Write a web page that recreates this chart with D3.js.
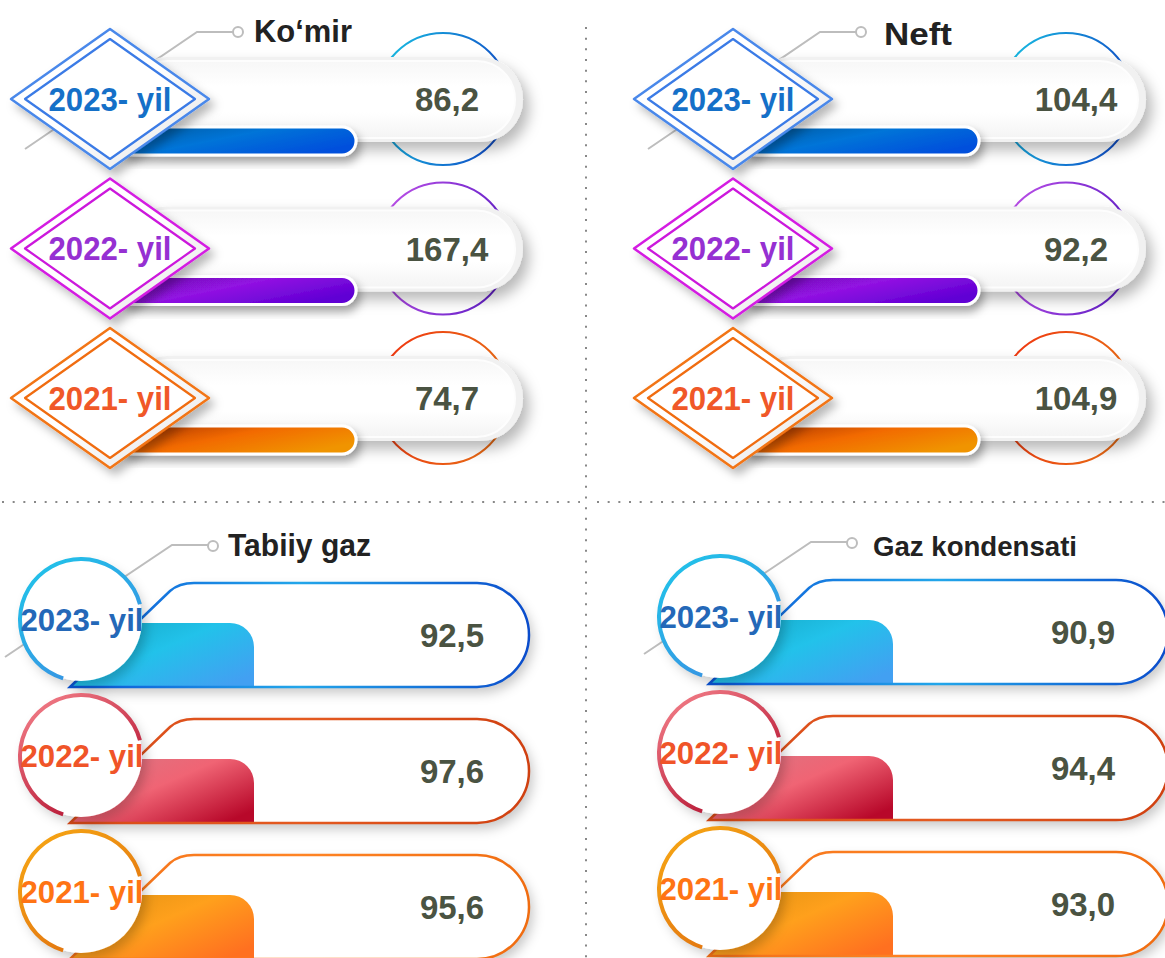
<!DOCTYPE html>
<html>
<head>
<meta charset="utf-8">
<script src="https://cdn.jsdelivr.net/npm/d3@7"></script>
<style>
  body { margin: 0; background: #fff; }
  svg { display: block; font-family: "Liberation Sans", Arial, sans-serif; font-weight: bold; }
</style>
</head>
<body>
<div id="chart"></div>
<script>
// Data
const years = ['2023- yil', '2022- yil', '2021- yil'];
const komirValues = [86.2, 167.4, 74.7];
const neftValues = [104.4, 92.2, 104.9];
const tabiiyGazValues = [92.5, 97.6, 95.6];
const gazKondensatiValues = [90.9, 94.4, 93.0];
const panelTitles = ['Ko‘mir', 'Neft', 'Tabiiy gaz', 'Gaz kondensati'];

const W = 1165, H = 958;
const fmt = d3.formatLocale({ decimal: ',', thousands: ' ', grouping: [3], currency: ['', ''] }).format('.1f');

// Colours per year (top panels use diamonds, bottom panels use circles)
const diamondStyles = [
	{ outer: '#4a88ea', inner: '#3b7be6', text: '#1570c8', bar: ['#0a5a9c', '#0074d8', '#0050dc'], ring: ['#18c6e4', '#1050c8'] },
	{ outer: '#d41ee2', inner: '#cc18dc', text: '#9630d2', bar: ['#6810a8', '#9212e2', '#6000d4'], ring: ['#c454ea', '#6420c8'] },
	{ outer: '#f27414', inner: '#f06c10', text: '#f05828', bar: ['#a83200', '#f26a00', '#f09400'], ring: ['#f03210', '#e86a14'] }
];
const circleStyles = [
	{ arc: ['#1ec8ea', '#3a8ee2'], text: '#2468b8', pill: ['#0a54d6', '#22a6ea', '#0a4ccc'], bar: ['#12a6c2', '#22c2ea', '#42a0f2'] },
	{ arc: ['#f88890', '#b00c2c'], text: '#f05428', pill: ['#d84a18', '#e45a20', '#d04010'], bar: ['#d87884', '#f06474', '#b8082a'] },
	{ arc: ['#f8aa14', '#e07010'], text: '#ff7414', pill: ['#f27018', '#ff8424', '#f06c10'], bar: ['#de9010', '#ffa01c', '#ff7020'] }
];

const svg = d3.select('#chart').append('svg').attr('width', W).attr('height', H);
const defs = svg.append('defs');

const addGradient = (id, stops, x2 = 1, y2 = 0) => {
	const g = defs.append('linearGradient').attr('id', id)
		.attr('x1', 0).attr('y1', 0).attr('x2', x2).attr('y2', y2);
	stops.forEach((c, i) => g.append('stop').attr('offset', i / (stops.length - 1)).attr('stop-color', c));
};
const addShadow = (id, dx, dy, sd, op) => {
	defs.append('filter').attr('id', id)
		.attr('x', '-30%').attr('y', '-40%').attr('width', '170%').attr('height', '190%')
		.append('feDropShadow')
		.attr('dx', dx).attr('dy', dy).attr('stdDeviation', sd)
		.attr('flood-color', '#000').attr('flood-opacity', op);
};

diamondStyles.forEach((s, i) => {
	addGradient(`dbar${i}`, s.bar, 1, 0.6);
	addGradient(`ring${i}`, s.ring, 1, 0.2);
});
circleStyles.forEach((s, i) => {
	addGradient(`carc${i}`, s.arc, 0.7, 1);
	addGradient(`cpill${i}`, s.pill, 1, 0);
	addGradient(`cbar${i}`, s.bar, 1, 0.8);
});
addGradient('pillFace', ['#f7f7f7', '#ffffff', '#ffffff', '#f4f4f4'], 0, 1);
addGradient('diamondFace', ['#ffffff', '#ffffff', '#e2e2e2'], 1, 1);
addShadow('shPill', 6, 8, 7, 0.28);
addShadow('shBar', 3, 6, 5, 0.35);
addShadow('shDiamond', 5, 6, 5, 0.28);
addShadow('shCircle', 4, 6, 6, 0.22);

// Dotted dividers
const divider = svg.append('g').attr('stroke', '#888').attr('stroke-width', 2).attr('stroke-dasharray', '2,8.67');
divider.append('line').attr('x1', 586).attr('x2', 586).attr('y1', 27).attr('y2', H);
divider.append('line').attr('x1', 2).attr('x2', 580).attr('y1', 502).attr('y2', 502);
divider.append('line').attr('x1', 597).attr('x2', W).attr('y1', 502).attr('y2', 502);

const connector = (g, pts, dot) => {
	g.append('path').attr('d', d3.line()(pts))
		.attr('fill', 'none').attr('stroke', '#bdbdbd').attr('stroke-width', 2);
	g.append('circle').attr('cx', dot[0]).attr('cy', dot[1]).attr('r', 5)
		.attr('fill', '#fff').attr('stroke', '#bdbdbd').attr('stroke-width', 2);
};

const diamondPoints = (cx, cy, hw, hh) => [[cx - hw, cy], [cx, cy - hh], [cx + hw, cy], [cx, cy + hh]];

// Top panels: diamond badge, white pill, short bar, ring behind the value
function drawDiamondPanel(title, values, o) {
	const g = svg.append('g').attr('transform', `translate(${o.dx},${o.dy})`);
	const y = d3.scalePoint().domain(years).range([99, 398]);

	connector(g, [[25, 149], [197, 32], [233, 32]], [238, 32]);

	years.forEach((yr, i) => {
		const s = diamondStyles[i];
		const cy = y(yr);
		g.append('circle').attr('cx', 443).attr('cy', cy).attr('r', 66)
			.attr('fill', 'none').attr('stroke', `url(#ring${i})`).attr('stroke-width', 2);

		g.append('rect').attr('x', 125).attr('y', cy - 42).attr('width', 398).attr('height', 85).attr('rx', 42.5)
			.attr('fill', '#f1f1f1').attr('filter', 'url(#shPill)');
		g.append('rect').attr('x', 129).attr('y', cy - 38).attr('width', 386).attr('height', 77).attr('rx', 38.5)
			.attr('fill', 'url(#pillFace)').attr('stroke', '#fdfdfd').attr('stroke-width', 2);

		g.append('rect').attr('x', 120).attr('y', cy + 28).attr('width', 236).attr('height', 28).attr('rx', 14)
			.attr('fill', `url(#dbar${i})`).attr('stroke', '#fff').attr('stroke-width', 3)
			.attr('filter', 'url(#shBar)');

		g.append('polygon').attr('points', diamondPoints(110, cy, 99, 70).join(' '))
			.attr('fill', 'url(#diamondFace)').attr('stroke', s.outer).attr('stroke-width', 2.5)
			.attr('stroke-linejoin', 'round').attr('filter', 'url(#shDiamond)');
		g.append('polygon').attr('points', diamondPoints(110, cy, 85, 60).join(' '))
			.attr('fill', '#fff').attr('stroke', s.inner).attr('stroke-width', 2.2)
			.attr('stroke-linejoin', 'round');

		g.append('text').attr('x', 110).attr('y', cy + 11.5).attr('text-anchor', 'middle')
			.attr('font-size', 32.5).attr('textLength', 123).attr('lengthAdjust', 'spacingAndGlyphs')
			.attr('fill', s.text).text(yr);
		g.append('text').attr('x', o.valueX).attr('y', cy + 12).attr('text-anchor', 'middle')
			.attr('font-size', 33).attr('fill', '#4a5342').text(fmt(values[i]));
	});

	g.append('text').attr('x', o.titleX).attr('y', o.titleY)
		.attr('font-size', o.titleSize).attr('fill', '#222')
		.attr('textLength', o.titleLen).attr('lengthAdjust', 'spacingAndGlyphs').text(title);
}

// Bottom panels: slanted outlined pill, tab-shaped bar, circle badge
const pillPath = (x0, yt, yb, xr) => {
	const R = (yb - yt) / 2;
	return `M${x0},${yb}L${x0 + 100},${yt + 8}Q${x0 + 109},${yt} ${x0 + 124},${yt}` +
		`L${xr - R},${yt}A${R},${R} 0 0 1 ${xr - R},${yb}Z`;
};
const tabPath = (x0, ytop, yb, xr, r) => {
	const xd = x0 + (yb - ytop) * 100 / 96;
	return `M${x0},${yb}L${xd},${ytop}L${xr - r},${ytop}A${r},${r} 0 0 1 ${xr},${ytop + r}L${xr},${yb}Z`;
};
const badgeArc = d3.arc().innerRadius(59).outerRadius(63)
	.startAngle(197 * Math.PI / 180).endAngle(435 * Math.PI / 180);

function drawCirclePanel(title, values, o) {
	const g = svg.append('g').attr('transform', `translate(${o.dx},${o.dy})`);
	const y = d3.scalePoint().domain(years).range([635, 907]);

	connector(g, [[5, 657], [172, 545], [208, 545]], [213, 546]);

	years.forEach((yr, i) => {
		const s = circleStyles[i];
		const cy = y(yr);
		const yt = cy - 52, yb = cy + 52;

		g.append('path').attr('d', pillPath(70, yt, yb, 529))
			.attr('fill', '#fff').attr('filter', 'url(#shCircle)');
		g.append('path').attr('d', tabPath(70, cy - 12, yb, 254, 24))
			.attr('fill', `url(#cbar${i})`);
		g.append('path').attr('d', pillPath(70, yt, yb, 529))
			.attr('fill', 'none').attr('stroke', `url(#cpill${i})`).attr('stroke-width', 2.5);

		const ccx = 81, ccy = cy - 15;
		g.append('circle').attr('cx', ccx).attr('cy', ccy).attr('r', 61)
			.attr('fill', '#fff').attr('filter', 'url(#shCircle)');
		g.append('path').attr('transform', `translate(${ccx},${ccy})`).attr('d', badgeArc())
			.attr('fill', `url(#carc${i})`);

		g.append('text').attr('x', ccx + 1).attr('y', ccy + 11).attr('text-anchor', 'middle')
			.attr('font-size', 31.5).attr('textLength', 123).attr('lengthAdjust', 'spacingAndGlyphs')
			.attr('fill', s.text).text(yr);
		g.append('text').attr('x', o.valueX).attr('y', cy + 12).attr('text-anchor', 'middle')
			.attr('font-size', 33).attr('fill', '#4a5342').text(fmt(values[i]));
	});

	g.append('text').attr('x', o.titleX).attr('y', o.titleY)
		.attr('font-size', o.titleSize).attr('fill', '#222')
		.attr('textLength', o.titleLen).attr('lengthAdjust', 'spacingAndGlyphs').text(title);
}

drawDiamondPanel(panelTitles[0], komirValues, { dx: 0, dy: 0, valueX: 447, titleX: 254, titleY: 42, titleSize: 31, titleLen: 98 });
drawDiamondPanel(panelTitles[1], neftValues, { dx: 623, dy: 0, valueX: 453, titleX: 261, titleY: 45, titleSize: 32, titleLen: 68 });
drawCirclePanel(panelTitles[2], tabiiyGazValues, { dx: 0, dy: 0, valueX: 452, titleX: 228, titleY: 556, titleSize: 32, titleLen: 143 });
drawCirclePanel(panelTitles[3], gazKondensatiValues, { dx: 639, dy: -3, valueX: 444, titleX: 234, titleY: 559, titleSize: 27, titleLen: 204 });
</script>
</body>
</html>
